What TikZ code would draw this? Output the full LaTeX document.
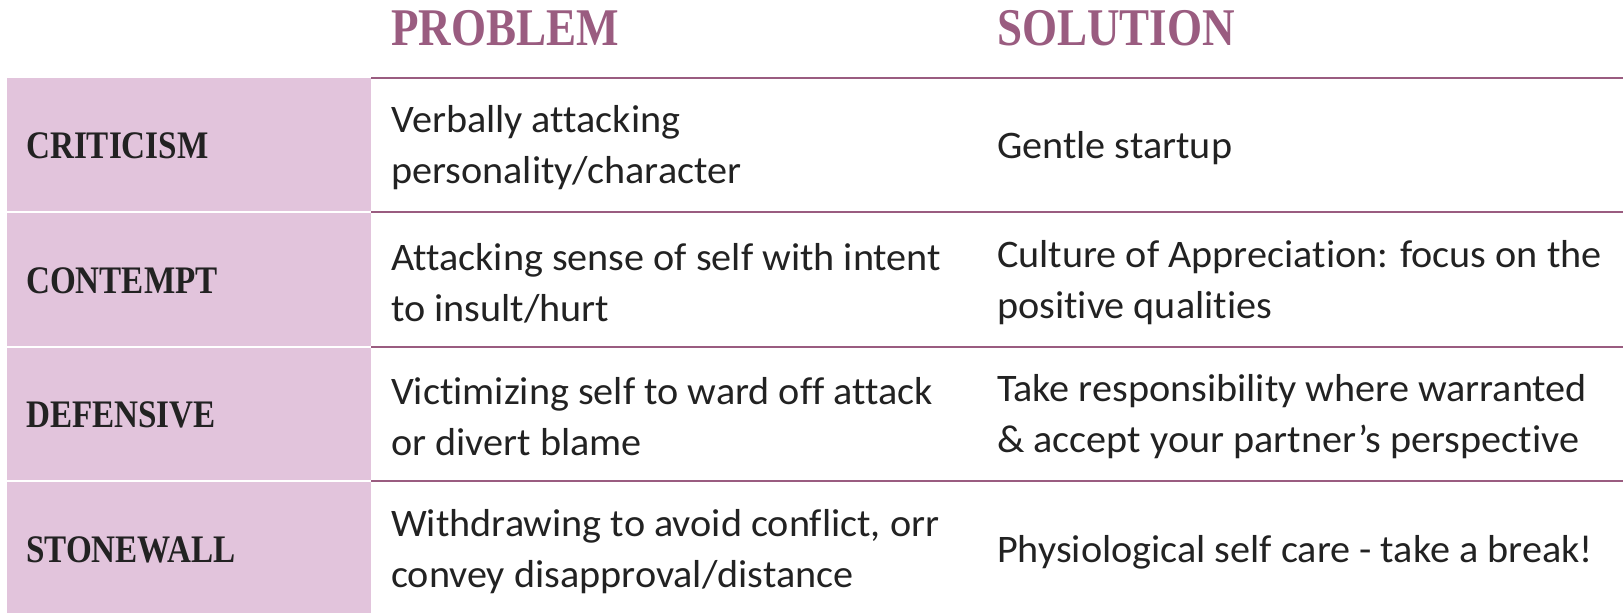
\documentclass[tikz,border=0pt]{standalone}
\usepackage{fontspec}
\setmainfont[FakeStretch=1.03,Ligatures=NoCommon]{Carlito}
\newfontfamily\headfont[FakeStretch=0.85]{Liberation Serif}
\definecolor{plum}{HTML}{9A5C80}
\definecolor{lilac}{HTML}{E2C4DC}
\definecolor{ink}{HTML}{222222}

\begin{document}
\begin{tikzpicture}[x=1pt,y=1pt,yscale=-1,xscale=1,
  colhead/.style={font=\headfont\bfseries\fontsize{53}{53}\selectfont, text=plum, anchor=west, inner sep=0pt},
  rowname/.style={font=\headfont\bfseries\fontsize{39}{39}\selectfont, text=ink, anchor=west, inner sep=0pt},
  cell/.style={font=\fontsize{39}{51}\selectfont, text=ink, align=left, anchor=west, inner sep=0pt}]
\useasboundingbox (0,0) rectangle (1623,613);

%Shape: Rectangles (left column)
\fill [lilac] (7,78) rectangle (371,211) ;
\fill [lilac] (7,213) rectangle (371,346) ;
\fill [lilac] (7,348) rectangle (371,480) ;
\fill [lilac] (7,482) rectangle (371,613) ;

%Straight Lines
\draw [plum, line width=2]    (371,77.5) -- (1623,77.5) ;
\draw [plum, line width=2]    (371,212) -- (1623,212) ;
\draw [plum, line width=2]    (371,347) -- (1623,347) ;
\draw [plum, line width=2]    (371,481) -- (1623,481) ;

% Text Node
\node [colhead] (problem) at (391,28) {PROBLEM};
% Text Node
\node [colhead] (solution) at (997,28) {SOLUTION};

% Text Node
\node [rowname] (criticism) at (26,146) {CRITICISM};
% Text Node
\node [rowname] (contempt) at (26,281) {CONTEMPT};
% Text Node
\node [rowname] (defensive) at (26,415) {DEFENSIVE};
% Text Node
\node [rowname] (stonewall) at (26,550) {STONEWALL};

% Text Node
\node [cell] (critprob) at (391,148) {Verbally attacking\\personality/character};
% Text Node
\node [cell] (critsol) at (997,148) {Gentle startup};
% Text Node
\node [cell] (contprob) at (391,283) {Attacking sense of self with intent\\to insult/hurt};
% Text Node
\node [cell] (contsol) at (997,283) {Culture of Appreciation: focus on the\\positive qualities};
% Text Node
\node [cell] (defprob) at (391,417) {Victimizing self to ward off attack\\or divert blame};
% Text Node
\node [cell] (defsol) at (997,417) {Take responsibility where warranted\\\& accept your partner’s perspective};
% Text Node
\node [cell] (stoneprob) at (391,552) {Withdrawing to avoid conflict, orr\\convey disapproval/distance};
% Text Node
\node [cell] (stonesol) at (997,552) {Physiological self care - take a break!};

\end{tikzpicture}
\end{document}
